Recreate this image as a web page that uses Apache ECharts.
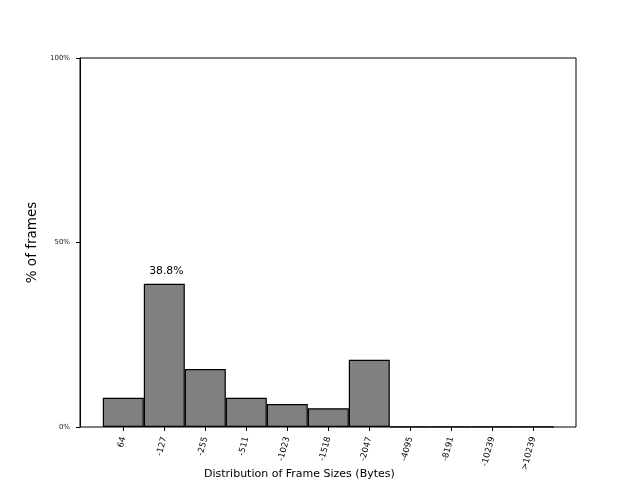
<!DOCTYPE html>
<html>
<head>
<meta charset="utf-8">
<script src="https://cdn.jsdelivr.net/npm/echarts@6/dist/echarts.min.js"></script>
<style>html,body{margin:0;padding:0;background:#fff}#c{width:640px;height:480px}</style>
</head>
<body>
<div id="c"></div>
<script>
var categories = ['64', '-127', '-255', '-511', '-1023', '-1518', '-2047', '-4095', '-8191', '-10239', '>10239'];
var percentValues = [7.9, 38.8, 15.7, 7.9, 6.2, 5.1, 18.2, 0.1, 0.05, 0.03, 0.02];
var yTicks = [0, 50, 100];
var labelledIndex = 1;

var chart = echarts.init(document.getElementById('c'), null, {renderer: 'canvas'});
var font = 'DejaVu Sans';
var barData = percentValues.map(function (v, i) {
  var item = {value: v};
  if (i === labelledIndex) {
    item.label = {show: true, position: 'top', distance: 7, offset: [2, 0], formatter: v.toFixed(1) + '%',
      fontFamily: font, fontSize: 10.8, color: '#000'};
  }
  return item;
});

chart.setOption({
  animation: false,
  textStyle: {fontFamily: font},
  grid: [
    {left: 80, right: 64, top: 58, bottom: 53, show: true, borderColor: '#000', borderWidth: 1, backgroundColor: 'transparent'},
    {left: 102.8, right: 86.2, top: 58, bottom: 53}
  ],
  xAxis: [
    {gridIndex: 0, type: 'value', min: 0, max: 1, show: false},
    {gridIndex: 1, type: 'category', data: categories, boundaryGap: true,
      axisLine: {show: false},
      axisTick: {show: true, alignWithLabel: true, length: 4, lineStyle: {color: '#000', width: 1}},
      axisLabel: {rotate: 75, fontSize: 8.5, color: '#000', margin: 10, interval: 0, fontFamily: font},
      splitLine: {show: false}}
  ],
  yAxis: [
    {gridIndex: 0, type: 'value', min: yTicks[0], max: yTicks[yTicks.length - 1], interval: 50,
      name: '% of frames', nameLocation: 'middle', nameGap: 40,
      nameTextStyle: {fontSize: 13.5, color: '#000', fontFamily: font},
      axisLine: {show: true, lineStyle: {color: '#000'}},
      axisTick: {show: true, length: 4, lineStyle: {color: '#000'}},
      axisLabel: {formatter: '{value}%', fontSize: 7, color: '#222', margin: 10, fontFamily: font},
      splitLine: {show: false}},
    {gridIndex: 1, type: 'value', min: yTicks[0], max: yTicks[yTicks.length - 1], show: false}
  ],
  graphic: [
    {type: 'text', left: 204, top: 469,
      style: {text: 'Distribution of Frame Sizes (Bytes)', fontSize: 11, fontFamily: font, fill: '#000'}}
  ],
  series: [
    {type: 'bar', xAxisIndex: 1, yAxisIndex: 1, data: barData,
      barWidth: '100%', barCategoryGap: '0%',
      itemStyle: {color: '#808080', borderColor: '#000', borderWidth: 1.2}}
  ]
});
</script>
</body>
</html>
